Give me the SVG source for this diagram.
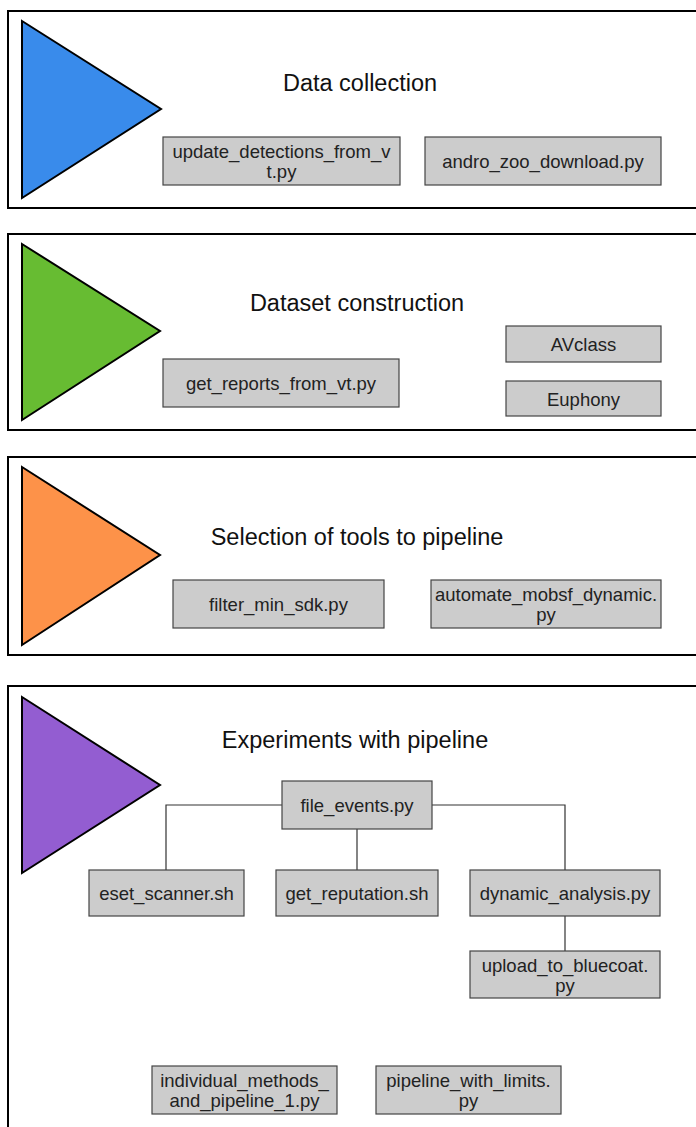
<svg xmlns="http://www.w3.org/2000/svg" width="696" height="1127" viewBox="0 0 696 1127">
<style>
.frame{fill:#fff;stroke:#000;stroke-width:2}
.tri{stroke:#000;stroke-width:2;stroke-linejoin:miter}
.box{fill:#cccccc;stroke:#444;stroke-width:1.2}
.title{font-family:"Liberation Sans",Arial,sans-serif;font-size:23.5px;fill:#111;text-anchor:middle}
.lbl{font-family:"Liberation Sans",Arial,sans-serif;font-size:18.5px;fill:#222;text-anchor:middle}
.conn{fill:none;stroke:#333;stroke-width:1.2}
</style>
<rect width="696" height="1127" fill="#fff"/>
<g id="stage1">
<rect class="frame" x="8" y="11" width="700" height="197"/>
<polygon class="tri" fill="#398BEB" points="22,21 161,109 22,198"/>
<text class="title" x="360" y="91">Data collection</text>
</g>
<g id="n-update"><rect class="box" x="163" y="137" width="237" height="48"/><text class="lbl" x="281.5" y="158">update_detections_from_v</text><text class="lbl" x="281.5" y="178">t.py</text></g>
<g id="n-andro"><rect class="box" x="425" y="137" width="236" height="48"/><text class="lbl" x="543" y="168">andro_zoo_download.py</text></g>
<g id="stage2">
<rect class="frame" x="8" y="234" width="700" height="196"/>
<polygon class="tri" fill="#67BC32" points="22,244 160,331 22,420"/>
<text class="title" x="357" y="311">Dataset construction</text>
</g>
<g id="n-getreports"><rect class="box" x="163" y="359" width="236" height="48"/><text class="lbl" x="281" y="390">get_reports_from_vt.py</text></g>
<g id="n-avclass"><rect class="box" x="506" y="326" width="155" height="36"/><text class="lbl" x="583.5" y="351">AVclass</text></g>
<g id="n-euphony"><rect class="box" x="506" y="381" width="155" height="35"/><text class="lbl" x="583.5" y="405.5">Euphony</text></g>
<g id="stage3">
<rect class="frame" x="8" y="457" width="700" height="198"/>
<polygon class="tri" fill="#FD9249" points="22,467 160,555 22,645"/>
<text class="title" x="357" y="545">Selection of tools to pipeline</text>
</g>
<g id="n-filter"><rect class="box" x="173" y="580" width="211" height="48"/><text class="lbl" x="278.5" y="611">filter_min_sdk.py</text></g>
<g id="n-automate"><rect class="box" x="431" y="580" width="230" height="48"/><text class="lbl" x="546" y="601">automate_mobsf_dynamic.</text><text class="lbl" x="546" y="621">py</text></g>
<g id="stage4">
<rect class="frame" x="8" y="686" width="700" height="460"/>
<polygon class="tri" fill="#935DD1" points="22,697 160,785 22,873"/>
<text class="title" x="355" y="748">Experiments with pipeline</text>
</g>
<g id="connectors">
<polyline class="conn" points="282,805 166,805 166,870"/>
<polyline class="conn" points="432,805 565,805 565,870"/>
<line class="conn" x1="357" y1="829" x2="357" y2="870"/>
<line class="conn" x1="565" y1="916" x2="565" y2="951"/>
</g>
<g id="n-fileevents"><rect class="box" x="282" y="781" width="150" height="48"/><text class="lbl" x="357" y="812">file_events.py</text></g>
<g id="n-eset"><rect class="box" x="89" y="870" width="155" height="46"/><text class="lbl" x="166.5" y="900">eset_scanner.sh</text></g>
<g id="n-getrep"><rect class="box" x="276" y="870" width="162" height="46"/><text class="lbl" x="357" y="900">get_reputation.sh</text></g>
<g id="n-dynamic"><rect class="box" x="470" y="870" width="190" height="46"/><text class="lbl" x="565" y="900">dynamic_analysis.py</text></g>
<g id="n-upload"><rect class="box" x="470" y="951" width="190" height="47"/><text class="lbl" x="565" y="971.5">upload_to_bluecoat.</text><text class="lbl" x="565" y="991.5">py</text></g>
<g id="n-individual"><rect class="box" x="152" y="1066" width="185" height="48"/><text class="lbl" x="244.5" y="1087">individual_methods_</text><text class="lbl" x="244.5" y="1107">and_pipeline_1.py</text></g>
<g id="n-pipelimits"><rect class="box" x="376" y="1066" width="185" height="48"/><text class="lbl" x="468.5" y="1087">pipeline_with_limits.</text><text class="lbl" x="468.5" y="1107">py</text></g>
</svg>
